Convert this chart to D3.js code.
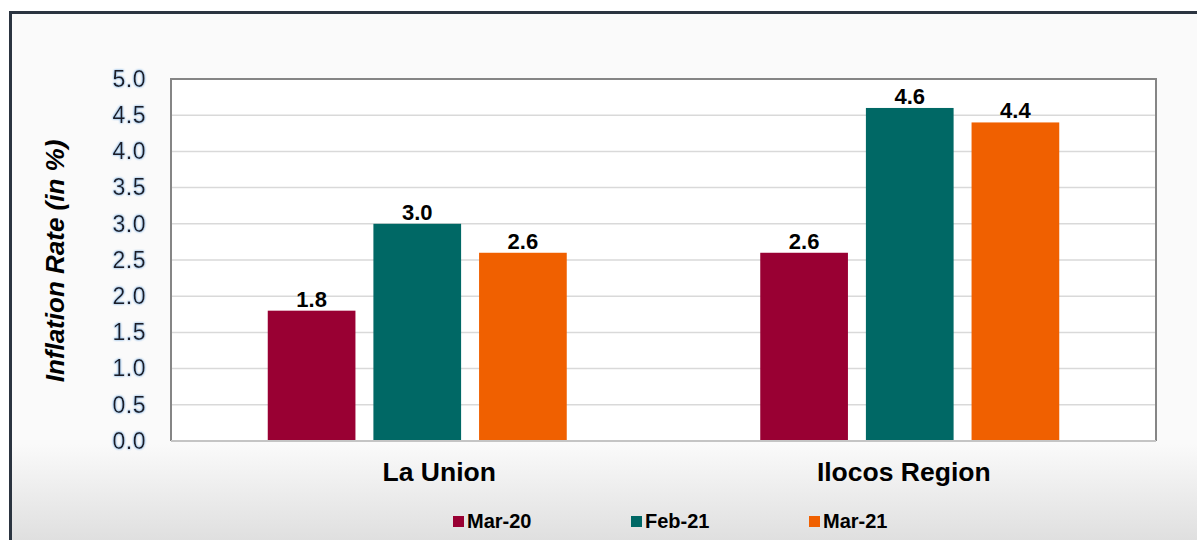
<!DOCTYPE html>
<html>
<head>
<meta charset="utf-8">
<script src="https://cdn.jsdelivr.net/npm/d3@7"></script>
<style>
  body { margin: 0; background: #fff; }
  svg { display: block; }
</style>
</head>
<body>
<div id="chart"></div>
<script>
// data
var categories = ["La Union", "Ilocos Region"];
var seriesNames = ["Mar-20", "Feb-21", "Mar-21"];
var mar20 = [1.8, 2.6];
var feb21 = [3.0, 4.6];
var mar21 = [2.6, 4.4];
var yTicks = [0, 0.5, 1, 1.5, 2, 2.5, 3, 3.5, 4, 4.5, 5];
var colors = ["#990033", "#006865", "#f06000"];

var W = 1197, H = 540;
var margin = {top: 79, right: 41, bottom: 99, left: 171};
var width = W - margin.left - margin.right,
    height = H - margin.top - margin.bottom;
var font = "'Liberation Sans', Arial, sans-serif";

var svg = d3.select("#chart").append("svg")
    .attr("width", W).attr("height", H);

var defs = svg.append("defs");
var grad = defs.append("linearGradient").attr("id", "bg")
    .attr("x1", 0).attr("y1", 0).attr("x2", 0).attr("y2", 1);
grad.append("stop").attr("offset", "0%").attr("stop-color", "#fafafa");
grad.append("stop").attr("offset", "80%").attr("stop-color", "#fafafa");
grad.append("stop").attr("offset", "100%").attr("stop-color", "#dcdcdc");

var glow = defs.append("filter").attr("id", "glow")
    .attr("x", "-20%").attr("y", "-20%").attr("width", "140%").attr("height", "140%");
glow.append("feGaussianBlur").attr("in", "SourceAlpha").attr("stdDeviation", 1.2).attr("result", "b");
glow.append("feFlood").attr("flood-color", "#9cc3ea");
glow.append("feComposite").attr("in2", "b").attr("operator", "in").attr("result", "g");
var mg = glow.append("feMerge");
mg.append("feMergeNode").attr("in", "g");
mg.append("feMergeNode").attr("in", "g");
mg.append("feMergeNode").attr("in", "SourceGraphic");

// background and frame
svg.append("rect").attr("x", 10).attr("y", 12).attr("width", W).attr("height", H)
    .attr("fill", "url(#bg)");
svg.append("path").attr("d", "M10.5," + H + "V12.5H" + W)
    .attr("fill", "none").attr("stroke", "#2b3440").attr("stroke-width", 3);

var g = svg.append("g")
    .attr("transform", "translate(" + margin.left + "," + margin.top + ")");

var x0 = d3.scaleBand().domain(categories).range([0, width]);
var groupW = 299;
var x1 = d3.scaleBand().domain(seriesNames).range([0, groupW]).paddingInner(0.17);
var y = d3.scaleLinear().domain([0, 5]).range([height, 0]);

g.append("rect").attr("width", width).attr("height", height).attr("fill", "#fff");

// gridlines
g.append("g")
  .selectAll("line").data(yTicks.slice(1, -1)).enter().append("line")
    .attr("x1", 0).attr("x2", width)
    .attr("y1", function(d) { return y(d); }).attr("y2", function(d) { return y(d); })
    .attr("stroke", "#d9d9d9").attr("stroke-width", 1.5);

// y axis labels
var yAxis = g.append("g")
    .call(d3.axisLeft(y).tickValues(yTicks).tickFormat(d3.format(".1f")).tickSize(0).tickPadding(25));
yAxis.select(".domain").remove();
yAxis.selectAll("text")
    .attr("font-family", font)
    .attr("font-size", 23).attr("letter-spacing", 0.5).attr("fill", "#1c1c28")
    .attr("filter", "url(#glow)");

// bars
var series = [mar20, feb21, mar21];
var rows = categories.map(function(c, i) {
  return seriesNames.map(function(s, j) { return {cat: c, name: s, value: series[j][i], color: colors[j]}; });
});

var groups = g.selectAll(".grp").data(rows).enter().append("g")
    .attr("transform", function(d) {
      return "translate(" + (x0(d[0].cat) + (x0.bandwidth() - groupW) / 2) + ",0)";
    });

groups.selectAll("rect").data(function(d) { return d; }).enter().append("rect")
    .attr("x", function(d) { return x1(d.name); })
    .attr("width", x1.bandwidth())
    .attr("y", function(d) { return y(d.value); })
    .attr("height", function(d) { return height - y(d.value); })
    .attr("fill", function(d) { return d.color; });

groups.selectAll("text").data(function(d) { return d; }).enter().append("text")
    .attr("x", function(d) { return x1(d.name) + x1.bandwidth() / 2; })
    .attr("y", function(d) { return y(d.value) - 4; })
    .attr("text-anchor", "middle")
    .attr("font-family", font)
    .attr("font-weight", "bold").attr("font-size", 22).attr("fill", "#000")
    .text(function(d) { return d3.format(".1f")(d.value); });

// plot border
g.append("path").attr("d", "M0," + height + "V0H" + width + "V" + height)
    .attr("fill", "none").attr("stroke", "#858585").attr("stroke-width", 2);
g.append("line").attr("x1", 0).attr("x2", width).attr("y1", height).attr("y2", height)
    .attr("stroke", "#c4c4c4").attr("stroke-width", 2);

// x axis labels (the labels sit a little off the group centres in the original)
var labelShift = [22, -6];
var xAxis = g.append("g").attr("transform", "translate(0," + height + ")")
    .call(d3.axisBottom(x0).tickSize(0).tickPadding(21));
xAxis.select(".domain").remove();
xAxis.selectAll("text")
    .attr("dx", function(d, i) { return labelShift[i]; })
    .attr("font-family", font)
    .attr("font-weight", "bold").attr("font-size", 26.5).attr("fill", "#000");

// y title
svg.append("text")
    .attr("transform", "translate(64,261) rotate(-90)")
    .attr("text-anchor", "middle")
    .attr("font-family", font)
    .attr("font-weight", "bold").attr("font-style", "italic")
    .attr("font-size", 26).attr("fill", "#000")
    .text("Inflation Rate (in %)");

// legend
var legX = [453, 631, 809];
var leg = svg.append("g").selectAll("g").data(seriesNames).enter().append("g")
    .attr("transform", function(d, i) { return "translate(" + legX[i] + ",516)"; });
leg.append("rect").attr("width", 11).attr("height", 11)
    .attr("fill", function(d, i) { return colors[i]; });
leg.append("text").attr("x", 14).attr("y", 12)
    .attr("font-family", font)
    .attr("font-weight", "bold").attr("font-size", 20).attr("fill", "#000")
    .text(function(d) { return d; });
</script>
</body>
</html>
